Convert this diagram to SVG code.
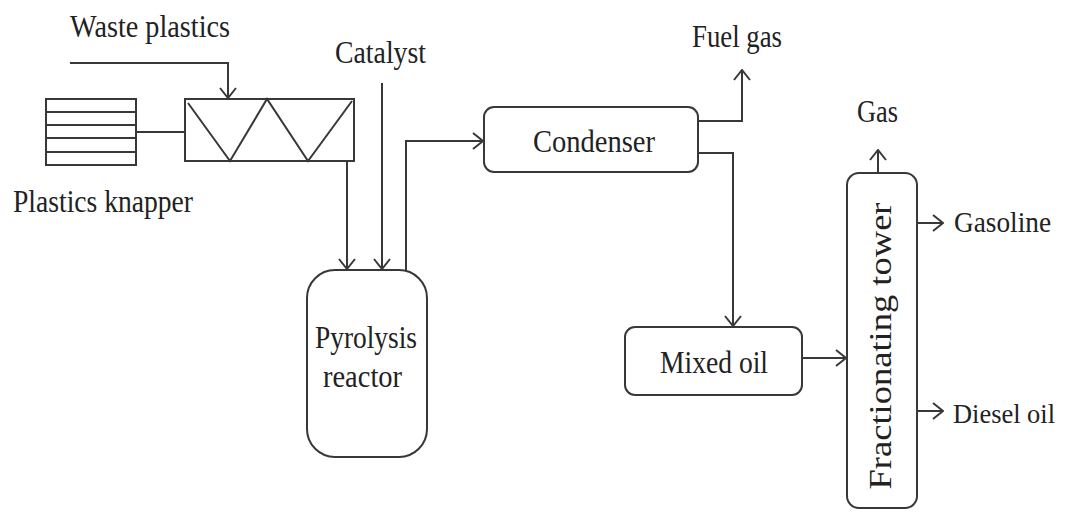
<svg xmlns="http://www.w3.org/2000/svg" width="1068" height="515" viewBox="0 0 1068 515">
<style>
.ln{fill:none;stroke:#383838;stroke-width:2;stroke-linejoin:miter}
.bx{fill:#fff;stroke:#383838;stroke-width:2}
.tx{font-family:"Liberation Serif","Times New Roman",serif;font-size:32px;fill:#222}
.m{text-anchor:middle}
</style>
<defs>
<marker id="ah" markerUnits="userSpaceOnUse" viewBox="0 0 12 18" refX="11" refY="9" markerWidth="12" markerHeight="18" orient="auto">
<path d="M1,1 L11,9 L1,17" fill="none" stroke="#383838" stroke-width="2"/>
</marker>
</defs>
<rect width="1068" height="515" fill="#fff"/>

<g id="connectors">
<path class="ln" d="M136,132 L185,132"/>
<path class="ln" d="M70,63 L228,63 L228,98" marker-end="url(#ah)"/>
<path class="ln" d="M347,161 L347,269" marker-end="url(#ah)"/>
<path class="ln" d="M382,83 L382,269" marker-end="url(#ah)"/>
<path class="ln" d="M406,270 L406,141 L483,141" marker-end="url(#ah)"/>
<path class="ln" d="M698,121 L742,121 L742,70" marker-end="url(#ah)"/>
<path class="ln" d="M698,153 L733,153 L733,326" marker-end="url(#ah)"/>
<path class="ln" d="M802,358 L846,358" marker-end="url(#ah)"/>
<path class="ln" d="M878,173 L878,150" marker-end="url(#ah)"/>
<path class="ln" d="M917,223 L943,223" marker-end="url(#ah)"/>
<path class="ln" d="M917,411 L943,411" marker-end="url(#ah)"/>
</g>

<g id="knapper">
<rect class="bx" x="46" y="99" width="90" height="66"/>
<path class="ln" d="M46,112 H136 M46,125 H136 M46,138 H136 M46,152 H136"/>
<text class="tx" x="13" y="212" textLength="180" lengthAdjust="spacingAndGlyphs">Plastics knapper</text>
</g>

<g id="screw-feeder">
<rect class="bx" x="185" y="99" width="169" height="62"/>
<path class="ln" d="M188,103 L230,161 L267,99 L308,161 L352,101"/>
</g>

<g id="waste-plastics">
<text class="tx" x="70" y="37" textLength="160" lengthAdjust="spacingAndGlyphs">Waste plastics</text>
</g>

<g id="catalyst">
<text class="tx" x="335" y="63" textLength="91" lengthAdjust="spacingAndGlyphs">Catalyst</text>
</g>

<g id="reactor">
<rect class="bx" x="307" y="270" width="120" height="187" rx="28" ry="28"/>
<text class="tx" x="315" y="348" textLength="102" lengthAdjust="spacingAndGlyphs">Pyrolysis</text>
<text class="tx" x="323" y="387" textLength="79" lengthAdjust="spacingAndGlyphs">reactor</text>
</g>

<g id="condenser">
<rect class="bx" x="484" y="107" width="214" height="65" rx="10" ry="10"/>
<text class="tx" x="533" y="152" textLength="122" lengthAdjust="spacingAndGlyphs">Condenser</text>
</g>

<g id="fuel-gas">
<text class="tx" x="692" y="47" textLength="90" lengthAdjust="spacingAndGlyphs">Fuel gas</text>
</g>

<g id="mixed-oil">
<rect class="bx" x="625" y="327" width="177" height="68" rx="10" ry="10"/>
<text class="tx" x="660" y="373" textLength="108" lengthAdjust="spacingAndGlyphs">Mixed oil</text>
</g>

<g id="fractionating-tower">
<rect class="bx" x="847" y="173" width="70" height="335" rx="12" ry="12"/>
<text class="tx m" transform="translate(891,346) rotate(-90)" x="0" y="0" textLength="287" lengthAdjust="spacingAndGlyphs">Fractionating tower</text>
</g>

<g id="gas">
<text class="tx" x="857" y="122" textLength="41" lengthAdjust="spacingAndGlyphs">Gas</text>
</g>

<g id="gasoline">
<text class="tx" x="954" y="232" style="font-size:30px" textLength="97" lengthAdjust="spacingAndGlyphs">Gasoline</text>
</g>

<g id="diesel-oil">
<text class="tx" x="953" y="423" style="font-size:28px" textLength="102" lengthAdjust="spacingAndGlyphs">Diesel oil</text>
</g>
</svg>
